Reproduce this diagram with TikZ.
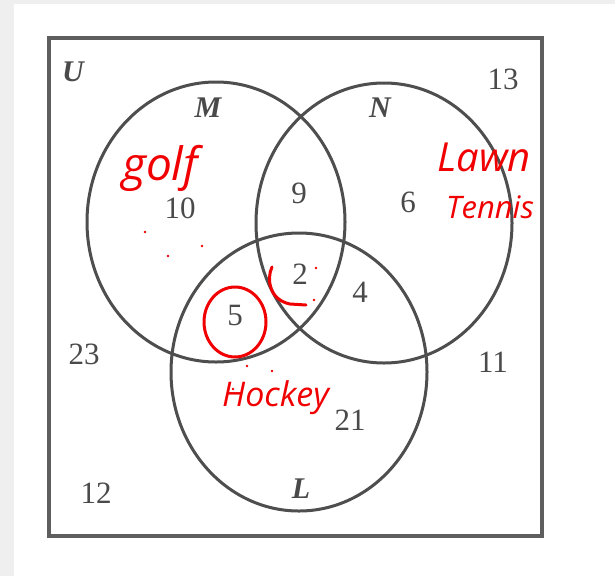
\documentclass[tikz,border=0pt]{standalone}
\usepackage{fontspec}
\setmainfont{Liberation Serif}
\newfontfamily\handfont{Open Sans}
\definecolor{linegray}{HTML}{4E4E4E}
\definecolor{boxgray}{HTML}{5E5E5E}
\definecolor{txtgray}{HTML}{4A4A4A}
\definecolor{inkred}{HTML}{F00000}
\definecolor{bggray}{HTML}{EFEFEF}
\tikzset{
  setline/.style={draw=linegray, line width=3pt},
  num/.style={inner sep=0pt, text=txtgray, font=\fontsize{31}{31}\selectfont},
  setname/.style={inner sep=0pt, text=txtgray, font=\fontsize{30}{30}\selectfont\bfseries\itshape},
  ink/.style={inner sep=0pt, text=inkred},
  inkline/.style={draw=inkred, line width=3pt, line cap=round},
  inkdot/.style={fill=inkred}
}
\begin{document}
\begin{tikzpicture}[x=1pt,y=-1pt]
\useasboundingbox (0,0) rectangle (615,576);
\fill[white] (0,0) rectangle (615,576);
\fill[bggray] (0,0) rectangle (14,576);
\fill[bggray] (0,0) rectangle (615,4);
\draw[draw=boxgray, line width=3.6pt] (49,38) rectangle (542,536);
\draw[setline] (216,222) ellipse [x radius=129, y radius=140];
\draw[setline] (384,223) ellipse [x radius=128, y radius=140];
\draw[setline] (299,372) ellipse [x radius=128, y radius=139];
\node[setname] (U) at (73,72) {U};
\node[setname] (M) at (208,108) {M};
\node[setname] (N) at (380,108) {N};
\node[setname] (L) at (301,489) {L};
\node[num] (n13) at (503,79) {13};
\node[num] (n10) at (180,208) {10};
\node[num] (n9) at (299,193) {9};
\node[num] (n6) at (408,202) {6};
\node[num] (n2) at (300,274) {2};
\node[num] (n4) at (360,292) {4};
\node[num] (n5) at (235,315) {5};
\node[num] (n23) at (84,354) {23};
\node[num] (n11) at (493,362) {11};
\node[num] (n21) at (350,420) {21};
\node[num] (n12) at (96,493) {12};
\node[ink, font=\fontsize{46}{46}\selectfont\handfont\itshape] (golf) at (160,168) {golf};
\node[ink, font=\fontsize{40}{40}\selectfont\handfont\itshape] (lawn) at (484,157) {Lawn};
\node[ink, font=\fontsize{31}{31}\selectfont\handfont\itshape] (tennis) at (490,207) {Tennis};
\node[ink, anchor=west, font=\fontsize{34}{34}\selectfont\handfont\itshape] (hockey) at (222,398) {Hockey};
\draw[inkline] (235,322) ellipse [x radius=31, y radius=35];
\draw[inkline] (272,267) .. controls (266,280) and (270,300) .. (290,304) -- (306,305);
\foreach \p in {(145,232),(168,256),(202,246),(316,268),(314,300),(247,366),(272,371),(233,389)}
  \fill[inkdot] \p circle (1.3);
\end{tikzpicture}
\end{document}
